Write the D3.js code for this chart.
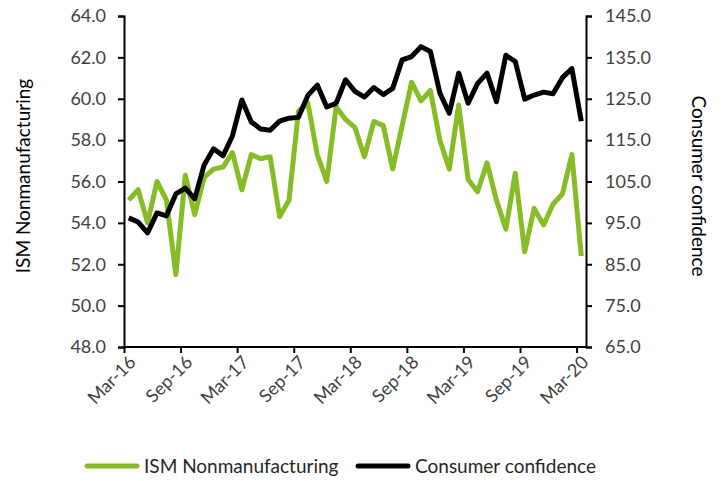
<!DOCTYPE html>
<html>
<head>
<meta charset="utf-8">
<script src="https://cdn.jsdelivr.net/npm/d3@7"></script>
<style>
  body { margin: 0; background: #fff; }
  text { font-family: Lato, "Open Sans", sans-serif; }
</style>
</head>
<body>
<svg width="722" height="481"></svg>
<script>
const svg = d3.select("svg");

// months Mar-16 .. Mar-20
const months = [
  "Mar-16","Apr-16","May-16","Jun-16","Jul-16","Aug-16","Sep-16","Oct-16","Nov-16","Dec-16",
  "Jan-17","Feb-17","Mar-17","Apr-17","May-17","Jun-17","Jul-17","Aug-17","Sep-17","Oct-17","Nov-17","Dec-17",
  "Jan-18","Feb-18","Mar-18","Apr-18","May-18","Jun-18","Jul-18","Aug-18","Sep-18","Oct-18","Nov-18","Dec-18",
  "Jan-19","Feb-19","Mar-19","Apr-19","May-19","Jun-19","Jul-19","Aug-19","Sep-19","Oct-19","Nov-19","Dec-19",
  "Jan-20","Feb-20","Mar-20"
];
const tickMonths = ["Mar-16","Sep-16","Mar-17","Sep-17","Mar-18","Sep-18","Mar-19","Sep-19","Mar-20"];

const ism = [
  55.1, 55.6, 54.0, 56.0, 55.1, 51.5, 56.3, 54.4, 56.2, 56.6,
  56.7, 57.4, 55.6, 57.3, 57.1, 57.2, 54.3, 55.1, 59.4, 59.8, 57.3, 56.0,
  59.6, 59.0, 58.6, 57.2, 58.9, 58.7, 56.6, 58.7, 60.8, 59.9, 60.4, 58.0,
  56.6, 59.7, 56.1, 55.5, 56.9, 55.1, 53.7, 56.4, 52.6, 54.7, 53.9, 54.9,
  55.4, 57.3, 52.4
];
const confidence = [
  96.2, 95.2, 92.6, 97.4, 96.7, 102.0, 103.4, 100.8, 109.0, 112.9,
  111.2, 116.0, 124.7, 119.4, 117.7, 117.4, 119.6, 120.3, 120.5, 125.8, 128.3, 123.0,
  123.9, 129.6, 126.8, 125.4, 127.7, 126.0, 127.5, 134.4, 135.2, 137.6, 136.4, 126.4,
  121.5, 131.2, 123.9, 128.7, 131.2, 124.3, 135.5, 134.0, 124.9, 125.9, 126.6, 126.2,
  130.1, 132.3, 119.6
];

const leftTicks = [48, 50, 52, 54, 56, 58, 60, 62, 64];
const rightTicks = [65, 75, 85, 95, 105, 115, 125, 135, 145];

const green = "#86bc25";
const plotLeft = 124, plotRight = 586, plotTop = 16, plotBottom = 347;

// category index -> x, points sit in the middle of each month slot
const x = d3.scaleLinear().domain([0, months.length]).range([plotLeft, plotRight]);
const yL = d3.scaleLinear().domain([48, 64]).range([plotBottom, plotTop]);
const yR = d3.scaleLinear().domain([65, 145]).range([plotBottom, plotTop]);

// axes
const gL = svg.append("g")
    .attr("transform", `translate(${plotLeft},0)`)
    .call(d3.axisLeft(yL).tickValues(leftTicks).tickFormat(d3.format(".1f")).tickSize(6).tickPadding(12));

const gR = svg.append("g")
    .attr("transform", `translate(${plotRight},0)`)
    .call(d3.axisRight(yR).tickValues(rightTicks).tickFormat(d3.format(".1f")).tickSize(6).tickPadding(13));

const gB = svg.append("g")
    .attr("transform", `translate(0,${plotBottom})`)
    .call(d3.axisBottom(x)
        .tickValues(tickMonths.map(m => months.indexOf(m)))
        .tickFormat(i => months[i])
        .tickSize(6).tickSizeOuter(0));

[gL, gR, gB].forEach(g => {
    g.select(".domain").attr("stroke", "#000").attr("stroke-width", 2);
    g.selectAll(".tick line").attr("stroke", "#000").attr("stroke-width", 2);
    g.selectAll("text").attr("fill", "#404040").attr("font-size", 18);
});
gB.select(".domain").attr("d", `M${plotLeft},0H${plotRight}`);

gB.selectAll("text")
    .attr("x", 0).attr("y", 0).attr("dy", "0.35em")
    .attr("text-anchor", "end")
    .attr("transform", "translate(8,12) rotate(-45)");

// lines
const lineL = d3.line().x((d, i) => x(i + 0.5)).y(d => yL(d));
const lineR = d3.line().x((d, i) => x(i + 0.5)).y(d => yR(d));

svg.append("path")
    .datum(ism)
    .attr("d", lineL)
    .attr("fill", "none")
    .attr("stroke", green)
    .attr("stroke-width", 5)
    .attr("stroke-linejoin", "round");

svg.append("path")
    .datum(confidence)
    .attr("d", lineR)
    .attr("fill", "none")
    .attr("stroke", "#000")
    .attr("stroke-width", 5)
    .attr("stroke-linejoin", "round");

// axis titles
svg.append("text")
    .attr("transform", "translate(30,176) rotate(-90)")
    .attr("text-anchor", "middle")
    .attr("font-size", 19)
    .attr("fill", "#000")
    .text("ISM Nonmanufacturing");

svg.append("text")
    .attr("transform", "translate(692,186) rotate(90)")
    .attr("text-anchor", "middle")
    .attr("font-size", 19)
    .attr("fill", "#000")
    .text("Consumer confidence");

// legend
const legend = [
    { name: "ISM Nonmanufacturing", color: green, x: 87 },
    { name: "Consumer confidence", color: "#000", x: 358 }
];
legend.forEach(l => {
    svg.append("line")
        .attr("x1", l.x).attr("x2", l.x + 50)
        .attr("y1", 466).attr("y2", 466)
        .attr("stroke", l.color)
        .attr("stroke-width", 5)
        .attr("stroke-linecap", "round");
    svg.append("text")
        .attr("x", l.x + 57)
        .attr("y", 466)
        .attr("dy", "0.35em")
        .attr("font-size", 19)
        .attr("fill", "#262626")
        .text(l.name);
});
</script>
</body>
</html>
